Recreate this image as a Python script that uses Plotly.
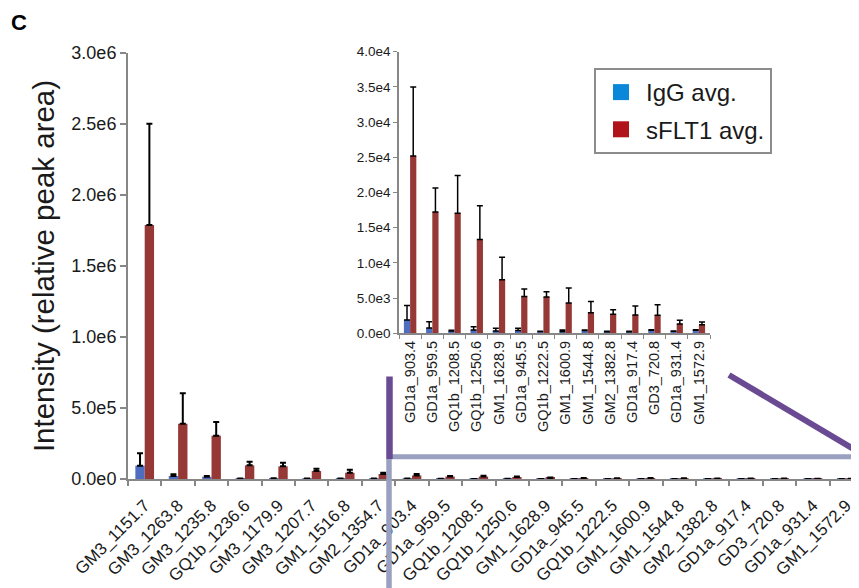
import plotly.graph_objects as go

# The page adds an 8px body margin; the figure is sized to fill the rest of the window.
OFF = 8
W, H = 859 - OFF, 588 - OFF

# ---------------- data ----------------
categories = ["GM3_1151.7", "GM3_1263.8", "GM3_1235.8", "GQ1b_1236.6", "GM3_1179.9",
              "GM3_1207.7", "GM1_1516.8", "GM2_1354.7", "GD1a_903.4", "GD1a_959.5",
              "GQ1b_1208.5", "GQ1b_1250.6", "GM1_1628.9", "GD1a_945.5", "GQ1b_1222.5",
              "GM1_1600.9", "GM1_1544.8", "GM2_1382.8", "GD1a_917.4", "GD3_720.8",
              "GD1a_931.4", "GM1_1572.9"]
inset_categories = categories[8:]

igg_top8 = [94000, 21000, 16000, 3000, 5000, 2000, 2000, 2000]
igg_top8_err = [87000, 12000, 5000, 1000, 1000, 1000, 1000, 1000]
sflt_top8 = [1789000, 389000, 305000, 96000, 89000, 56000, 44000, 35000]
sflt_top8_err = [713000, 214000, 96000, 26000, 26000, 17000, 22000, 9000]

igg_rest = [1890, 755, 330, 470, 330, 380, 240, 240, 380, 236, 236, 425, 283, 425]
igg_rest_err = [2070, 895, 95, 470, 370, 320, 60, 230, 100, 50, 50, 95, 50, 95]
sflt_rest = [25200, 17230, 17040, 13310, 7600, 5240, 5145, 4300, 2930, 2690, 2600, 2550, 1320, 1230]
sflt_rest_err = [9800, 3400, 5380, 4815, 3210, 1040, 755, 2120, 1600, 660, 1270, 1510, 520, 370]

igg_avg = igg_top8 + igg_rest
igg_err = igg_top8_err + igg_rest_err
sflt_avg = sflt_top8 + sflt_rest
sflt_err = sflt_top8_err + sflt_rest_err

main_ticks = [0, 5e5, 1e6, 1.5e6, 2e6, 2.5e6, 3e6]
main_ticktext = ["0.0e0", "5.0e5", "1.0e6", "1.5e6", "2.0e6", "2.5e6", "3.0e6"]
inset_ticks = [0, 5e3, 1e4, 1.5e4, 2e4, 2.5e4, 3e4, 3.5e4, 4e4]
inset_ticktext = ["0.0e0", "5.0e3", "1.0e4", "1.5e4", "2.0e4", "2.5e4", "3.0e4", "3.5e4", "4.0e4"]

series_names = ["IgG avg.", "sFLT1 avg."]
bar_colors = ["#4F6DBE", "#963836"]
legend_colors = ["#0A87D9", "#B0141A"]

# ---------------- helpers (window pixels -> paper fractions) ----------------
def px(x):
    return (x - OFF) / W

def py(y):
    return 1 - (y - OFF) / H

FONT = "Liberation Sans, Arial, sans-serif"
TXT = "#1a1a1a"

fig = go.Figure()

def err(arr, thick):
    return dict(type="data", symmetric=False, array=arr, arrayminus=[0] * len(arr),
                color="black", thickness=thick, width=3)

# main chart bars
fig.add_trace(go.Bar(x=categories, y=igg_avg, marker=dict(color=bar_colors[0], line=dict(width=0)),
                     error_y=err(igg_err, 2), showlegend=False, xaxis="x", yaxis="y"))
fig.add_trace(go.Bar(x=categories, y=sflt_avg, marker=dict(color=bar_colors[1], line=dict(width=0)),
                     error_y=err(sflt_err, 2), showlegend=False, xaxis="x", yaxis="y"))

# inset bars
fig.add_trace(go.Bar(x=inset_categories, y=igg_rest, marker=dict(color=bar_colors[0], line=dict(width=0)),
                     error_y=err(igg_rest_err, 1.5), showlegend=False, xaxis="x2", yaxis="y2"))
fig.add_trace(go.Bar(x=inset_categories, y=sflt_rest, marker=dict(color=bar_colors[1], line=dict(width=0)),
                     error_y=err(sflt_rest_err, 1.5), showlegend=False, xaxis="x2", yaxis="y2"))

# legend entries
for name, col in zip(series_names, legend_colors):
    fig.add_trace(go.Scatter(x=[None], y=[None], mode="markers", name=name, legendgroup=name,
                             marker=dict(symbol="square", size=16, color=col, line=dict(width=0)),
                             xaxis="x", yaxis="y"))

axis_col = "#878787"

fig.update_layout(
    width=W, height=H,
    margin=dict(l=0, r=0, t=0, b=0, autoexpand=False),
    paper_bgcolor="white", plot_bgcolor="rgba(0,0,0,0)",
    barmode="group", bargap=0.44, bargroupgap=0,
    font=dict(family=FONT, color=TXT),
    xaxis=dict(domain=[px(128), 1.0], range=[-0.5, 21.38], type="category", automargin=False,
               showline=True, linecolor=axis_col, linewidth=2,
               ticks="outside", tickson="boundaries", ticklen=5, tickcolor=axis_col, tickwidth=1.5,
               tickangle=-45, ticklabelstandoff=8, tickfont=dict(size=17, family=FONT, color=TXT),
               showgrid=False, zeroline=False, fixedrange=True),
    yaxis=dict(domain=[py(479), py(53)], range=[0, 3e6], automargin=False,
               tickvals=main_ticks, ticktext=main_ticktext,
               showline=True, linecolor=axis_col, linewidth=2,
               ticks="outside", ticklen=6, tickcolor=axis_col, tickwidth=1.5,
               tickfont=dict(size=18, family=FONT, color=TXT),
               title=dict(text="Intensity (relative peak area)", font=dict(size=29.5, family=FONT, color=TXT),
                          standoff=8),
               showgrid=False, zeroline=False),
    xaxis2=dict(domain=[px(399), px(710)], anchor="y2", type="category", automargin=False,
                showline=True, linecolor=axis_col, linewidth=1.5,
                ticks="outside", tickson="boundaries", ticklen=4, tickcolor=axis_col, tickwidth=1.2,
                tickangle=-90, tickfont=dict(size=14.5, family=FONT, color=TXT),
                showgrid=False, zeroline=False),
    yaxis2=dict(domain=[py(333.3), py(51.7)], anchor="x2", range=[0, 4e4], automargin=False,
                tickvals=inset_ticks, ticktext=inset_ticktext,
                showline=True, linecolor=axis_col, linewidth=1.5,
                ticks="outside", ticklen=4, tickcolor=axis_col, tickwidth=1.2,
                tickfont=dict(size=13.5, family=FONT, color=TXT),
                showgrid=False, zeroline=False),
    legend=dict(x=px(594), y=py(68), xanchor="left", yanchor="top",
                bgcolor="white", bordercolor="#8C8C8C", borderwidth=2,
                font=dict(size=24, family=FONT, color=TXT),
                itemwidth=40, tracegroupgap=3),
    annotations=[dict(text="<b>C</b>", x=px(19), y=py(23), xref="paper", yref="paper",
                      xanchor="center", yanchor="middle",
                      showarrow=False, font=dict(size=22, family=FONT, color="black"))],
)

# zoom indicator lines (decoration, paper coordinates)
purple = "#6A4A92"
lav = "#9AA1C0"
shapes = [
    dict(type="line", x0=px(389), x1=px(389), y0=py(459), y1=py(590), line=dict(color=lav, width=5.5)),
    dict(type="line", x0=px(389), x1=px(861), y0=py(456.8), y1=py(456.8), line=dict(color=lav, width=5)),
    dict(type="line", x0=px(389.5), x1=px(389.5), y0=py(376.5), y1=py(459), line=dict(color=purple, width=6.5)),
    dict(type="line", x0=px(729), x1=px(861), y0=py(375), y1=py(453.5), line=dict(color=purple, width=6)),
]
for s in shapes:
    s.update(xref="paper", yref="paper", layer="above")
fig.update_layout(shapes=shapes)

fig.write_html("out.html")
